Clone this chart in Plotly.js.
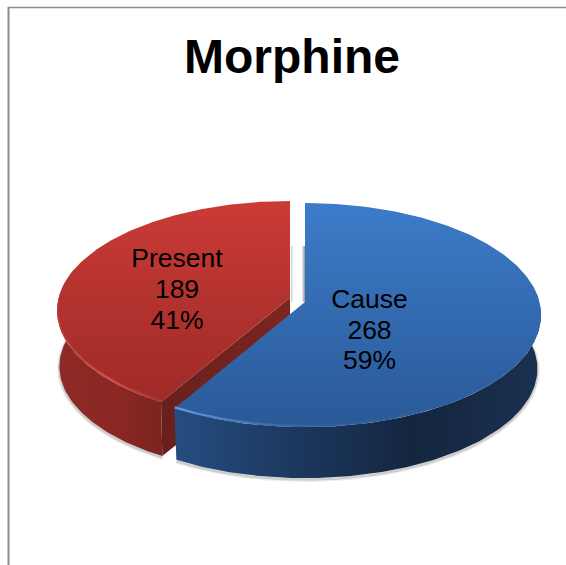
<!DOCTYPE html>
<html><head><meta charset="utf-8">
<script src="https://cdn.plot.ly/plotly-3.0.1.min.js"></script>
<style>html,body{margin:0;padding:0;background:#fff}#c{width:566px;height:565px}</style>
</head><body><div id="c"></div>
<script>
// --- data ---
const categories = ['Cause', 'Present'];
const counts = [268, 189];
const percents = ['59%', '41%'];
const chartTitle = 'Morphine';

// --- drawing geometry (pixel-like plot units, y downward) ---
const persp = 0.081;
const blueDisc = {cx:305, cy:306,   A:235.2, B:111.3, lift:4, wallScale:0.985, wallScaleY:0.975, depth:54};
const redDisc  = {cx:290, cy:301.8, A:232.2, B:109,   lift:4, wallScale:0.99,  wallScaleY:0.98,  depth:56};
const labelPos = [{x:369.5, y:[301,332,362.5]}, {x:177, y:[260,291,322]}];

const total = counts.reduce((a,b)=>a+b,0);
const f0 = 0, f1 = counts[0]/total, f2 = 1;

function pt(d, frac, sx, sy, dy){
  const t = frac*2*Math.PI, u = Math.sin(t), v = Math.cos(t), w = 1 + persp*v;
  return [d.cx + sx*d.A*u/w, d.cy - sy*d.B*v/w + dy];
}
function arc(d, a, b, sx, sy, dy){
  const n = Math.max(8, Math.ceil(Math.abs(b-a)*360));
  const out = [];
  for(let i=0;i<=n;i++) out.push(pt(d, a+(b-a)*i/n, sx, sy, dy));
  return out;
}
function poly(points, extra){
  return Object.assign({
    type:'scatter', mode:'lines', x:points.map(p=>p[0]), y:points.map(p=>p[1]),
    fill:'toself', line:{width:0}, hoverinfo:'skip', showlegend:false
  }, extra);
}
function grad(type, stops){
  return {fillgradient:{type:type, colorscale:stops}};
}
function apex(d){ return [d.cx, d.cy - d.lift]; }
function wedge(d,a,b){ const arcPts = arc(d,a,b,1,1,0); return [apex(d), ...arcPts, apex(d)]; }
function wall(d,a,b){ return [...arc(d,a,b,1,1,0), ...arc(d,b,a,d.wallScale,d.wallScaleY,d.depth)]; }
function rim(d,a,b,th){
  const up = arc(d,a,b,1,1,0), low = arc(d,b,a,0.996,0.996,-th);
  return [...up, ...low];
}
function shadowLine(d,a,b,w,op){
  const p = arc(d,a,b,d.wallScale,d.wallScaleY,d.depth+1.5);
  return {type:'scatter',mode:'lines',x:p.map(q=>q[0]),y:p.map(q=>q[1]),
    line:{width:w,color:'rgba(90,90,90,'+op+')'},hoverinfo:'skip',showlegend:false};
}

const ca = pt(redDisc,f1,1,1,0), cb = pt(redDisc,f1,redDisc.wallScale,redDisc.wallScaleY,redDisc.depth);
const ra = apex(redDisc);

const traces = [
  shadowLine(redDisc,f1,0.8,5,0.10), shadowLine(redDisc,f1,0.8,2.5,0.22),
  shadowLine(blueDisc,0.22,f1,5,0.10), shadowLine(blueDisc,0.22,f1,2.5,0.22),
  // notch shadow
  poly([[291,246],[305,246],[305,302],[291,302],[291,246]],
       grad('horizontal',[[0,'#cfcfcf'],[0.2,'#ffffff'],[0.75,'#ffffff'],[1,'#8f8f8f']])),
  // red walls and top
  poly(wall(redDisc,f1,0.8), grad('horizontal',[[0,'#8e2a26'],[0.6,'#8a2723'],[1,'#7a2420']])),
  poly([ca,ra,[ra[0],ra[1]+redDisc.depth],cb,ca], grad('horizontal',[[0,'#68201d'],[1,'#7c2521']])),
  poly(wedge(redDisc,f1,f2), grad('vertical',[[0,'#9e2b28'],[0.5,'#b3322e'],[1,'#cb3b37']])),
  poly(rim(redDisc,f1,0.8,1.8), grad('horizontal',[[0,'rgba(215,85,80,0.35)'],[0.5,'rgba(225,90,85,0.7)'],[1,'rgba(205,70,65,0.25)']])),
  // blue walls and top
  poly(wall(blueDisc,0.22,f1), grad('horizontal',[[0,'#264d80'],[0.3,'#1c3a62'],[0.65,'#14263f'],[1,'#1a3150']])),
  poly(wedge(blueDisc,f0,f1), grad('vertical',[[0,'#2a5997'],[0.5,'#336ab0'],[1,'#3c7cca']])),
  poly(rim(blueDisc,0.3,f1,1.8), grad('horizontal',[[0,'rgba(110,165,225,0.9)'],[0.4,'rgba(65,115,180,0.25)'],[1,'rgba(60,105,165,0)']])),
];

// labels, one text point per line so line spacing follows the reference
[1,0].forEach(i=>{
  traces.push({
    type:'scatter', mode:'text',
    x:[labelPos[i].x,labelPos[i].x,labelPos[i].x], y:labelPos[i].y,
    text:[categories[i], String(counts[i]), percents[i]],
    textposition:'middle center',
    textfont:{family:'"Liberation Sans", Arial, sans-serif', size:26.5, color:'#000'},
    hoverinfo:'skip', showlegend:false
  });
});

const layout = {
  width:566, height:565, margin:{l:0,r:0,t:0,b:0},
  paper_bgcolor:'#fff', plot_bgcolor:'#fff', showlegend:false,
  title:{text:chartTitle, x:292/566, xanchor:'center', xref:'paper', y:1-56/565, yref:'paper', yanchor:'middle',
         font:{family:'"Liberation Sans", Arial, sans-serif', size:48, color:'#000', weight:700}},
  xaxis:{range:[0,566], visible:false, fixedrange:true},
  yaxis:{range:[565,0], visible:false, fixedrange:true},
  shapes:[
    {type:'line',xref:'paper',yref:'paper',x0:8.5/566,x1:8.5/566,y0:0,y1:1-7/565,line:{color:'#8c8c8c',width:2}},
    {type:'line',xref:'paper',yref:'paper',x0:8/566,x1:1,y0:1-7.5/565,y1:1-7.5/565,line:{color:'#8c8c8c',width:1.5}}
  ]
};
Plotly.newPlot('c', traces, layout, {displayModeBar:false, staticPlot:true});
</script></body></html>
